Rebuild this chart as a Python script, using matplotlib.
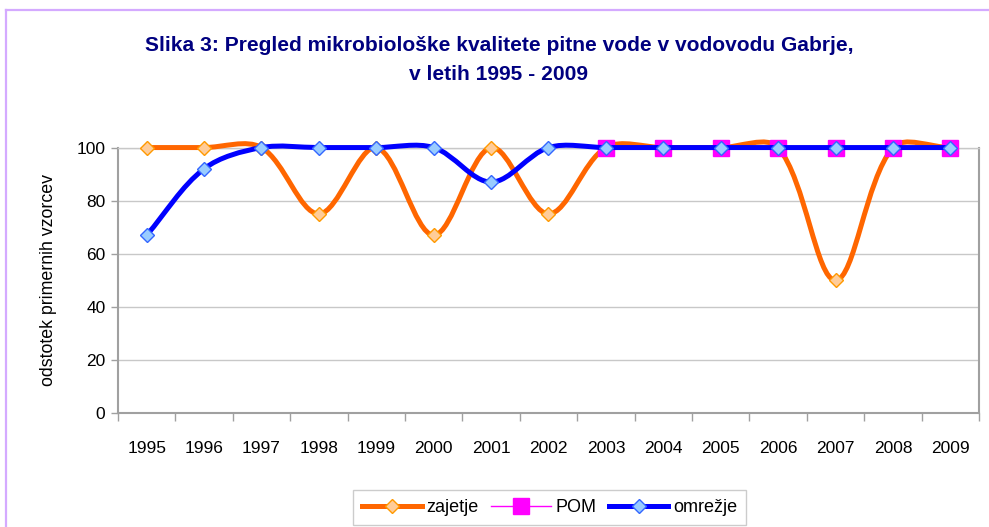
import numpy as np
import matplotlib
matplotlib.use('Agg')
import matplotlib.pyplot as plt
from matplotlib import font_manager
from matplotlib.path import Path
from matplotlib.patches import PathPatch
from matplotlib.lines import Line2D

years = ['1995', '1996', '1997', '1998', '1999', '2000', '2001', '2002',
         '2003', '2004', '2005', '2006', '2007', '2008', '2009']
zajetje = [100, 100, 100, 75, 100, 67, 100, 75, 100, 100, 100, 100, 50, 100, 100]
pom = [None] * 8 + [100, 100, 100, 100, 100, 100, 100]
omrezje = [67, 92, 100, 100, 100, 100, 87, 100, 100, 100, 100, 100, 100, 100, 100]

title = 'Slika 3: Pregled mikrobiološke kvalitete pitne vode v vodovodu Gabrje,\nv letih 1995 - 2009'
ylabel = 'odstotek primernih vzorcev'

plt.rcParams['font.family'] = ['Liberation Sans', 'DejaVu Sans']

# narrow font for the title if there is one
names = set(f.name for f in font_manager.fontManager.ttflist)
narrow = 'Liberation Sans Narrow' in names
title_family = ['Liberation Sans Narrow'] if narrow else ['Liberation Sans', 'DejaVu Sans']
title_size = 18 if narrow else 15.1

# pixel size of one unit on each axis, used to weight the smoothing
PX_X = 57.4
PX_Y = 2.65


def smooth_path(xs, ys):
    # Excel-like smoothed line: cubic bezier through the points,
    # tangents weighted by the (screen) length of the neighbouring segments
    pts = np.column_stack([xs, ys]).astype(float)
    scr = pts * [PX_X, PX_Y]
    n = len(pts)

    def dist(a, b):
        return np.hypot(*(scr[b] - scr[a]))

    verts = [pts[0]]
    codes = [Path.MOVETO]
    for i in range(n - 1):
        i0 = max(i - 1, 0)
        i3 = min(i + 2, n - 1)
        d01 = dist(i0, i)
        d12 = dist(i, i + 1)
        d23 = dist(i + 1, i3)
        f1 = d12 / (d01 + d12) / 3.0
        f2 = d12 / (d12 + d23) / 3.0
        c1 = pts[i] + (pts[i + 1] - pts[i0]) * f1
        c2 = pts[i + 1] - (pts[i3] - pts[i]) * f2
        verts += [c1, c2, pts[i + 1]]
        codes += [Path.CURVE4] * 3
    return Path(verts, codes)


fig = plt.figure(figsize=(9.89, 5.27), dpi=100)
ax = fig.add_axes([0.1193, 0.2163, 0.8706, 0.5037])

x = np.arange(len(years))

orange = '#FF6600'
blue = '#0000FF'
magenta = '#FF00FF'
lw = 3.6

# zajetje
ax.add_patch(PathPatch(smooth_path(x, zajetje), facecolor='none', edgecolor=orange,
                       lw=lw, zorder=3, capstyle='round', joinstyle='round', clip_on=False))
ax.plot(x, zajetje, linestyle='none', marker='D', markersize=7.5,
        markerfacecolor='#FFCC99', markeredgecolor='#FF9900', markeredgewidth=1,
        zorder=4, clip_on=False)

# POM
px = [i for i, v in enumerate(pom) if v is not None]
py = [v for v in pom if v is not None]
ax.plot(px, py, color=magenta, lw=1, marker='s', markersize=11.5,
        markerfacecolor=magenta, markeredgecolor=magenta, zorder=5, clip_on=False)

# omrezje
ax.add_patch(PathPatch(smooth_path(x, omrezje), facecolor='none', edgecolor=blue,
                       lw=lw, zorder=6, capstyle='round', joinstyle='round', clip_on=False))
ax.plot(x, omrezje, linestyle='none', marker='D', markersize=7.5,
        markerfacecolor='#99CCFF', markeredgecolor='#3366FF', markeredgewidth=1,
        zorder=7, clip_on=False)

ax.set_xlim(-0.5, len(years) - 0.5)
ax.set_ylim(0, 100)
ax.set_yticks([0, 20, 40, 60, 80, 100])
ax.set_xticks(x)
ax.set_xticklabels(years)
ax.set_xticks(np.arange(-0.5, len(years)), minor=True)
ax.tick_params(axis='x', which='major', length=0, pad=20, labelsize=12.5)
ax.tick_params(axis='x', which='minor', length=6, width=1, color='#A0A0A0', direction='out')
ax.tick_params(axis='y', length=5, width=1, color='#A0A0A0', pad=4, labelsize=12.5)
ax.grid(axis='y', color='#C8C8C8', lw=1, zorder=0)
ax.set_axisbelow(True)

for side in ['left', 'bottom', 'right']:
    ax.spines[side].set_color('#A0A0A0')
    ax.spines[side].set_linewidth(1.5)
ax.spines['top'].set_color('#C8C8C8')
ax.spines['top'].set_linewidth(1)

ax.set_ylabel(ylabel, fontsize=12.8, labelpad=14)

fig.text(0.5045, 1 - 60 / 527, title, ha='center', va='center', fontsize=title_size,
         fontweight='bold', color='#000080', linespacing=1.65, family=title_family)

handles = [
    Line2D([], [], color=orange, lw=lw, marker='D', markersize=7.5,
           markerfacecolor='#FFCC99', markeredgecolor='#FF9900'),
    Line2D([], [], color=magenta, lw=1, marker='s', markersize=11.5,
           markerfacecolor=magenta, markeredgecolor=magenta),
    Line2D([], [], color=blue, lw=lw, marker='D', markersize=7.5,
           markerfacecolor='#99CCFF', markeredgecolor='#3366FF'),
]
leg = fig.legend(handles, ['zajetje', 'POM', 'omrežje'], loc='upper center',
                 bbox_to_anchor=(549.5 / 989, 1 - 490 / 527), ncol=3, fontsize=13,
                 frameon=True, fancybox=False, handlelength=3.3, handletextpad=0.25,
                 columnspacing=0.7, borderpad=0.5, borderaxespad=0)
leg.get_frame().set_edgecolor('#C0C0C0')
leg.get_frame().set_linewidth(1)

# purple border of the chart frame
border = '#D4AAFF'
fig.add_artist(Line2D([6 / 989, 1], [1 - 10 / 527, 1 - 10 / 527], color=border, lw=1.6,
                      transform=fig.transFigure))
fig.add_artist(Line2D([6 / 989, 6 / 989], [0, 1 - 10 / 527], color=border, lw=1.6,
                      transform=fig.transFigure))

fig.savefig('out.png', dpi=100)
